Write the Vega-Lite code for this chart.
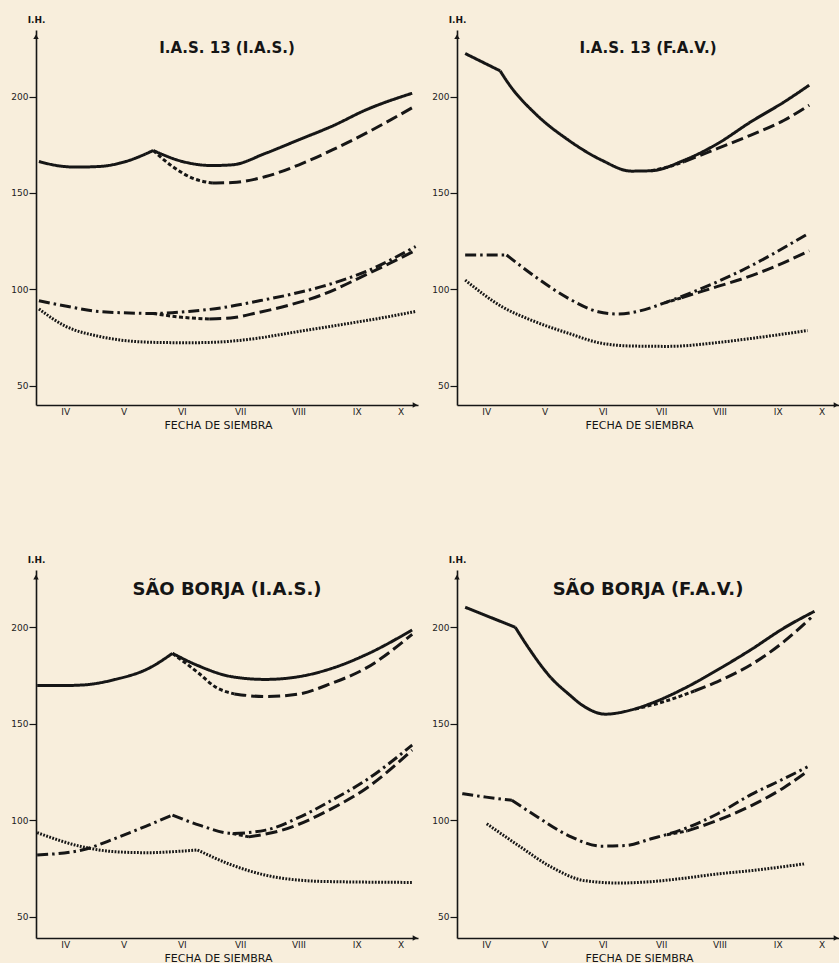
{
  "$schema": "https://vega.github.io/schema/vega-lite/v6.json",
  "background": "#f8eedc",
  "padding": {"left": 10, "top": 15, "right": 0, "bottom": 0},
  "config": {
    "view": {"stroke": null},
    "font": "DejaVu Sans",
    "axis": {"domainColor": "#151515", "domainWidth": 1.6, "tickColor": "#151515", "tickWidth": 1.2, "labelColor": "#222", "grid": false, "labelFont": "DejaVu Sans", "titleFont": "DejaVu Sans", "titleColor": "#151515"},
    "title": {"font": "DejaVu Sans", "fontWeight": "bold", "color": "#151515", "frame": "group", "anchor": "middle", "baseline": "bottom"}
  },
  "datasets": {
    "curves": [
      {"p":"TL","s":"solid","g":1,"x":0.05,"y":166.3},{"p":"TL","s":"solid","g":1,"x":0.4,"y":164.0},{"p":"TL","s":"solid","g":1,"x":0.68,"y":163.4},{"p":"TL","s":"solid","g":1,"x":1.08,"y":163.7},{"p":"TL","s":"solid","g":1,"x":1.54,"y":166.3},{"p":"TL","s":"solid","g":1,"x":2.01,"y":172.0},
      {"p":"TL","s":"solid","g":2,"x":2.01,"y":172.0},{"p":"TL","s":"solid","g":2,"x":2.51,"y":166.3},{"p":"TL","s":"solid","g":2,"x":3.02,"y":164.2},{"p":"TL","s":"solid","g":2,"x":3.37,"y":164.6},{"p":"TL","s":"solid","g":2,"x":3.94,"y":170.6},{"p":"TL","s":"solid","g":2,"x":4.51,"y":177.6},{"p":"TL","s":"solid","g":2,"x":5.09,"y":184.8},{"p":"TL","s":"solid","g":2,"x":5.66,"y":193.1},{"p":"TL","s":"solid","g":2,"x":6.45,"y":201.7},
      {"p":"TL","s":"thinU","g":1,"x":2.01,"y":172.0},{"p":"TL","s":"thinU","g":1,"x":2.34,"y":163.7},{"p":"TL","s":"thinU","g":1,"x":2.68,"y":157.7},{"p":"TL","s":"thinU","g":1,"x":3.02,"y":155.1},
      {"p":"TL","s":"dashU","g":1,"x":3.02,"y":155.1},{"p":"TL","s":"dashU","g":1,"x":3.37,"y":155.4},{"p":"TL","s":"dashU","g":1,"x":3.94,"y":158.5},{"p":"TL","s":"dashU","g":1,"x":4.51,"y":164.6},{"p":"TL","s":"dashU","g":1,"x":5.09,"y":172.4},{"p":"TL","s":"dashU","g":1,"x":5.66,"y":181.0},{"p":"TL","s":"dashU","g":1,"x":6.51,"y":195.2},
      {"p":"TL","s":"dashdot","g":1,"x":0.05,"y":94.1},{"p":"TL","s":"dashdot","g":1,"x":0.6,"y":90.8},{"p":"TL","s":"dashdot","g":1,"x":1.08,"y":88.5},{"p":"TL","s":"dashdot","g":1,"x":2.01,"y":87.5},{"p":"TL","s":"dashdot","g":1,"x":2.62,"y":88.5},{"p":"TL","s":"dashdot","g":1,"x":3.2,"y":90.5},{"p":"TL","s":"dashdot","g":1,"x":3.77,"y":93.7},{"p":"TL","s":"dashdot","g":1,"x":4.34,"y":97.2},{"p":"TL","s":"dashdot","g":1,"x":4.91,"y":101.5},{"p":"TL","s":"dashdot","g":1,"x":5.66,"y":109.3},{"p":"TL","s":"dashdot","g":1,"x":6.51,"y":122.2},
      {"p":"TL","s":"thinL","g":1,"x":2.01,"y":87.5},{"p":"TL","s":"thinL","g":1,"x":2.5,"y":85.5},{"p":"TL","s":"thinL","g":1,"x":2.97,"y":84.6},
      {"p":"TL","s":"dashL","g":1,"x":2.97,"y":84.6},{"p":"TL","s":"dashL","g":1,"x":3.4,"y":85.4},{"p":"TL","s":"dashL","g":1,"x":3.77,"y":87.7},{"p":"TL","s":"dashL","g":1,"x":4.34,"y":91.8},{"p":"TL","s":"dashL","g":1,"x":4.91,"y":97.2},{"p":"TL","s":"dashL","g":1,"x":5.66,"y":107.6},{"p":"TL","s":"dashL","g":1,"x":6.51,"y":120.2},
      {"p":"TL","s":"dot","g":1,"x":0.05,"y":89.8},{"p":"TL","s":"dot","g":1,"x":0.51,"y":80.8},{"p":"TL","s":"dot","g":1,"x":1.08,"y":75.6},{"p":"TL","s":"dot","g":1,"x":2.01,"y":72.5},{"p":"TL","s":"dot","g":1,"x":2.62,"y":72.3},{"p":"TL","s":"dot","g":1,"x":3.02,"y":72.5},{"p":"TL","s":"dot","g":1,"x":3.77,"y":74.5},{"p":"TL","s":"dot","g":1,"x":4.34,"y":77.3},{"p":"TL","s":"dot","g":1,"x":5.09,"y":81.0},{"p":"TL","s":"dot","g":1,"x":5.8,"y":84.5},{"p":"TL","s":"dot","g":1,"x":6.51,"y":88.5},

      {"p":"TR","s":"solid","g":1,"x":0.14,"y":222.3},{"p":"TR","s":"solid","g":1,"x":0.74,"y":213.3},
      {"p":"TR","s":"solid","g":2,"x":0.74,"y":213.3},{"p":"TR","s":"solid","g":2,"x":0.9,"y":206.0},{"p":"TR","s":"solid","g":2,"x":1.34,"y":191.2},{"p":"TR","s":"solid","g":2,"x":1.91,"y":177.4},{"p":"TR","s":"solid","g":2,"x":2.48,"y":167.0},{"p":"TR","s":"solid","g":2,"x":2.99,"y":161.3},{"p":"TR","s":"solid","g":2,"x":3.33,"y":161.5},{"p":"TR","s":"solid","g":2,"x":3.9,"y":167.0},{"p":"TR","s":"solid","g":2,"x":4.47,"y":175.6},{"p":"TR","s":"solid","g":2,"x":5.04,"y":186.9},{"p":"TR","s":"solid","g":2,"x":5.61,"y":197.2},{"p":"TR","s":"solid","g":2,"x":6.04,"y":205.9},
      {"p":"TR","s":"thinU","g":1,"x":3.33,"y":161.5},{"p":"TR","s":"thinU","g":1,"x":3.62,"y":163.5},{"p":"TR","s":"thinU","g":1,"x":3.9,"y":166.3},
      {"p":"TR","s":"dashU","g":1,"x":3.9,"y":166.3},{"p":"TR","s":"dashU","g":1,"x":4.47,"y":173.1},{"p":"TR","s":"dashU","g":1,"x":5.04,"y":180.0},{"p":"TR","s":"dashU","g":1,"x":5.61,"y":187.7},{"p":"TR","s":"dashU","g":1,"x":6.04,"y":195.5},
      {"p":"TR","s":"dashdot","g":1,"x":0.14,"y":117.8},{"p":"TR","s":"dashdot","g":1,"x":0.85,"y":117.8},
      {"p":"TR","s":"dashdot","g":2,"x":0.85,"y":117.8},{"p":"TR","s":"dashdot","g":2,"x":1.34,"y":106.6},{"p":"TR","s":"dashdot","g":2,"x":1.91,"y":95.3},{"p":"TR","s":"dashdot","g":2,"x":2.42,"y":88.4},{"p":"TR","s":"dashdot","g":2,"x":2.76,"y":87.2},{"p":"TR","s":"dashdot","g":2,"x":3.33,"y":90.5},{"p":"TR","s":"dashdot","g":2,"x":3.56,"y":93.0},{"p":"TR","s":"dashdot","g":2,"x":4.13,"y":99.6},{"p":"TR","s":"dashdot","g":2,"x":4.87,"y":109.6},{"p":"TR","s":"dashdot","g":2,"x":6.01,"y":128.7},
      {"p":"TR","s":"thinL","g":1,"x":3.56,"y":93.0},{"p":"TR","s":"thinL","g":1,"x":3.85,"y":95.6},
      {"p":"TR","s":"dashL","g":1,"x":3.85,"y":95.6},{"p":"TR","s":"dashL","g":1,"x":4.47,"y":101.5},{"p":"TR","s":"dashL","g":1,"x":4.87,"y":105.2},{"p":"TR","s":"dashL","g":1,"x":5.5,"y":112.5},{"p":"TR","s":"dashL","g":1,"x":6.04,"y":120.0},
      {"p":"TR","s":"dot","g":1,"x":0.14,"y":104.8},{"p":"TR","s":"dot","g":1,"x":0.77,"y":91.0},{"p":"TR","s":"dot","g":1,"x":1.34,"y":83.2},{"p":"TR","s":"dot","g":1,"x":1.91,"y":77.2},{"p":"TR","s":"dot","g":1,"x":2.48,"y":72.0},{"p":"TR","s":"dot","g":1,"x":2.99,"y":70.6},{"p":"TR","s":"dot","g":1,"x":3.62,"y":70.4},{"p":"TR","s":"dot","g":1,"x":4.47,"y":72.4},{"p":"TR","s":"dot","g":1,"x":5.04,"y":74.5},{"p":"TR","s":"dot","g":1,"x":6.01,"y":78.6},

      {"p":"BL","s":"solid","g":1,"x":0.02,"y":169.8},{"p":"BL","s":"solid","g":1,"x":0.4,"y":169.8},{"p":"BL","s":"solid","g":1,"x":0.79,"y":170.1},{"p":"BL","s":"solid","g":1,"x":1.36,"y":173.0},{"p":"BL","s":"solid","g":1,"x":1.93,"y":178.7},{"p":"BL","s":"solid","g":1,"x":2.34,"y":186.5},
      {"p":"BL","s":"solid","g":2,"x":2.34,"y":186.5},{"p":"BL","s":"solid","g":2,"x":2.79,"y":180.0},{"p":"BL","s":"solid","g":2,"x":3.36,"y":174.4},{"p":"BL","s":"solid","g":2,"x":3.93,"y":173.0},{"p":"BL","s":"solid","g":2,"x":4.5,"y":174.4},{"p":"BL","s":"solid","g":2,"x":5.07,"y":178.7},{"p":"BL","s":"solid","g":2,"x":5.65,"y":185.7},{"p":"BL","s":"solid","g":2,"x":6.45,"y":198.6},
      {"p":"BL","s":"thinU","g":1,"x":2.34,"y":186.5},{"p":"BL","s":"thinU","g":1,"x":2.79,"y":176.2},{"p":"BL","s":"thinU","g":1,"x":3.07,"y":169.2},{"p":"BL","s":"thinU","g":1,"x":3.4,"y":165.5},
      {"p":"BL","s":"dashU","g":1,"x":3.4,"y":165.5},{"p":"BL","s":"dashU","g":1,"x":3.93,"y":164.1},{"p":"BL","s":"dashU","g":1,"x":4.5,"y":165.4},{"p":"BL","s":"dashU","g":1,"x":5.07,"y":171.0},{"p":"BL","s":"dashU","g":1,"x":5.65,"y":178.7},{"p":"BL","s":"dashU","g":1,"x":6.45,"y":196.4},
      {"p":"BL","s":"dashdot","g":1,"x":0.02,"y":82.0},{"p":"BL","s":"dashdot","g":1,"x":0.79,"y":84.6},{"p":"BL","s":"dashdot","g":1,"x":1.36,"y":90.6},{"p":"BL","s":"dashdot","g":1,"x":1.93,"y":97.5},{"p":"BL","s":"dashdot","g":1,"x":2.34,"y":102.7},
      {"p":"BL","s":"dashdot","g":2,"x":2.34,"y":102.7},{"p":"BL","s":"dashdot","g":2,"x":2.8,"y":97.5},{"p":"BL","s":"dashdot","g":2,"x":3.37,"y":93.2},{"p":"BL","s":"dashdot","g":2,"x":3.94,"y":94.9},{"p":"BL","s":"dashdot","g":2,"x":4.51,"y":101.5},{"p":"BL","s":"dashdot","g":2,"x":5.08,"y":110.5},{"p":"BL","s":"dashdot","g":2,"x":5.66,"y":120.8},{"p":"BL","s":"dashdot","g":2,"x":6.45,"y":139.0},
      {"p":"BL","s":"thinL","g":1,"x":3.37,"y":93.2},{"p":"BL","s":"thinL","g":1,"x":3.65,"y":91.4},
      {"p":"BL","s":"dashL","g":1,"x":3.65,"y":91.4},{"p":"BL","s":"dashL","g":1,"x":4.22,"y":94.9},{"p":"BL","s":"dashL","g":1,"x":5.08,"y":106.2},{"p":"BL","s":"dashL","g":1,"x":5.66,"y":116.5},{"p":"BL","s":"dashL","g":1,"x":6.45,"y":136.4},
      {"p":"BL","s":"dot","g":1,"x":0.02,"y":93.6},{"p":"BL","s":"dot","g":1,"x":0.79,"y":86.3},{"p":"BL","s":"dot","g":1,"x":1.36,"y":83.7},{"p":"BL","s":"dot","g":1,"x":1.93,"y":83.2},{"p":"BL","s":"dot","g":1,"x":2.33,"y":83.7},{"p":"BL","s":"dot","g":1,"x":2.77,"y":84.6},
      {"p":"BL","s":"dot","g":2,"x":2.77,"y":84.6},{"p":"BL","s":"dot","g":2,"x":3.36,"y":76.8},{"p":"BL","s":"dot","g":2,"x":3.93,"y":71.6},{"p":"BL","s":"dot","g":2,"x":4.5,"y":69.0},{"p":"BL","s":"dot","g":2,"x":5.07,"y":68.2},{"p":"BL","s":"dot","g":2,"x":6.45,"y":67.8},

      {"p":"BR","s":"solid","g":1,"x":0.14,"y":210.4},{"p":"BR","s":"solid","g":1,"x":1.0,"y":200.0},
      {"p":"BR","s":"solid","g":2,"x":1.0,"y":200.0},{"p":"BR","s":"solid","g":2,"x":1.23,"y":189.2},{"p":"BR","s":"solid","g":2,"x":1.62,"y":173.6},{"p":"BR","s":"solid","g":2,"x":1.91,"y":165.5},{"p":"BR","s":"solid","g":2,"x":2.19,"y":158.8},{"p":"BR","s":"solid","g":2,"x":2.54,"y":155.0},{"p":"BR","s":"solid","g":2,"x":2.99,"y":157.2},{"p":"BR","s":"solid","g":2,"x":3.33,"y":160.6},{"p":"BR","s":"solid","g":2,"x":3.9,"y":168.4},{"p":"BR","s":"solid","g":2,"x":4.47,"y":178.0},{"p":"BR","s":"solid","g":2,"x":5.04,"y":188.4},{"p":"BR","s":"solid","g":2,"x":5.61,"y":199.7},{"p":"BR","s":"solid","g":2,"x":6.13,"y":208.3},
      {"p":"BR","s":"thinU","g":1,"x":3.05,"y":157.6},{"p":"BR","s":"thinU","g":1,"x":3.55,"y":161.5},{"p":"BR","s":"thinU","g":1,"x":4.07,"y":167.0},
      {"p":"BR","s":"dashU","g":1,"x":4.07,"y":167.0},{"p":"BR","s":"dashU","g":1,"x":4.47,"y":171.9},{"p":"BR","s":"dashU","g":1,"x":5.04,"y":180.6},{"p":"BR","s":"dashU","g":1,"x":5.61,"y":192.7},{"p":"BR","s":"dashU","g":1,"x":6.07,"y":205.0},
      {"p":"BR","s":"dashdot","g":1,"x":0.09,"y":113.8},{"p":"BR","s":"dashdot","g":1,"x":0.5,"y":112.0},{"p":"BR","s":"dashdot","g":1,"x":0.94,"y":110.4},
      {"p":"BR","s":"dashdot","g":2,"x":0.94,"y":110.4},{"p":"BR","s":"dashdot","g":2,"x":1.34,"y":102.5},{"p":"BR","s":"dashdot","g":2,"x":1.91,"y":92.1},{"p":"BR","s":"dashdot","g":2,"x":2.48,"y":86.6},{"p":"BR","s":"dashdot","g":2,"x":2.88,"y":86.9},{"p":"BR","s":"dashdot","g":2,"x":3.33,"y":90.4},{"p":"BR","s":"dashdot","g":2,"x":3.9,"y":95.6},{"p":"BR","s":"dashdot","g":2,"x":4.47,"y":103.4},{"p":"BR","s":"dashdot","g":2,"x":5.04,"y":113.3},{"p":"BR","s":"dashdot","g":2,"x":5.61,"y":121.6},{"p":"BR","s":"dashdot","g":2,"x":6.01,"y":127.7},
      {"p":"BR","s":"thinL","g":1,"x":3.6,"y":92.5},{"p":"BR","s":"thinL","g":1,"x":3.95,"y":94.5},
      {"p":"BR","s":"dashL","g":1,"x":3.95,"y":94.5},{"p":"BR","s":"dashL","g":1,"x":4.47,"y":100.0},{"p":"BR","s":"dashL","g":1,"x":5.04,"y":107.5},{"p":"BR","s":"dashL","g":1,"x":5.61,"y":117.0},{"p":"BR","s":"dashL","g":1,"x":6.01,"y":125.4},
      {"p":"BR","s":"dot","g":1,"x":0.51,"y":98.2},{"p":"BR","s":"dot","g":1,"x":1.05,"y":87.0},{"p":"BR","s":"dot","g":1,"x":1.62,"y":75.7},{"p":"BR","s":"dot","g":1,"x":2.19,"y":68.7},{"p":"BR","s":"dot","g":1,"x":2.76,"y":67.5},{"p":"BR","s":"dot","g":1,"x":3.33,"y":68.2},{"p":"BR","s":"dot","g":1,"x":3.9,"y":70.0},{"p":"BR","s":"dot","g":1,"x":4.47,"y":72.2},{"p":"BR","s":"dot","g":1,"x":5.04,"y":73.9},{"p":"BR","s":"dot","g":1,"x":5.95,"y":77.4}
    ],
    "one": [{}]
  },
  "columns": 2,
  "bounds": "flush",
  "spacing": {"row": 165, "column": 39},
  "concat": [
    {
      "width": 382, "height": 375,
      "title": {"text": "I.A.S. 13 (I.A.S.)", "fontSize": 15, "offset": -41},
      "layer": [
        {
          "data": {"name": "curves"},
          "transform": [{"filter": "datum.p == 'TL'"}],
          "mark": {"type": "line", "interpolate": "monotone", "color": "#161616"},
          "encoding": {
            "x": {"field": "x", "type": "quantitative", "scale": {"domain": [0, 6.55], "nice": false},
                  "axis": {"values": [0.5,1,1.5,2,2.5,3,3.5,4,4.5,5,5.5,6,6.25], "labelExpr": "datum.value % 1 == 0 ? '' : ['IV','V','VI','VII','VIII','IX','X'][floor(datum.value)]", "tickSize": -4, "tickOpacity": {"condition": {"test": "datum.value % 1 == 0", "value": 1}, "value": 0}, "labelPadding": 6, "labelFontSize": 9, "title": "FECHA DE SIEMBRA", "titleFontSize": 11, "titleFontWeight": "normal", "titlePadding": 3, "titleX": 182}},
            "y": {"field": "y", "type": "quantitative", "scale": {"domain": [40, 234.5], "nice": false, "zero": false},
                  "axis": {"values": [50,100,150,200], "tickSize": 7, "labelPadding": 1, "labelFontSize": 9, "title": "I.H.", "titleAngle": 0, "titleX": 0, "titleY": -6, "titleAlign": "center", "titleBaseline": "bottom", "titleFontSize": 9, "titleFontWeight": "bold"}},
            "detail": {"field": "g"},
            "strokeDash": {"field": "s", "type": "nominal", "legend": null, "scale": {"domain": ["solid","dashU","dashL","dashdot","dot","thinU","thinL"], "range": [[1,0],[12,5],[12,5],[11,4,2.5,4],[1.8,1.4],[4,2.5],[4,2.5]]}},
            "strokeWidth": {"field": "s", "type": "nominal", "legend": null, "scale": {"domain": ["solid","dashU","dashL","dashdot","dot","thinU","thinL"], "range": [3,3,3,3,2.4,1,1]}}
          }
        },
        {"data": {"name": "one"}, "mark": {"type": "point", "shape": "triangle-up", "filled": true, "size": 30, "color": "#161616", "opacity": 1}, "encoding": {"x": {"datum": 0}, "y": {"datum": 231}}},
        {"data": {"name": "one"}, "mark": {"type": "point", "shape": "triangle-right", "filled": true, "size": 30, "color": "#161616", "opacity": 1}, "encoding": {"x": {"datum": 6.5}, "y": {"datum": 40}}}
      ]
    },
    {
      "width": 382, "height": 375,
      "title": {"text": "I.A.S. 13  (F.A.V.)", "fontSize": 15, "offset": -41},
      "layer": [
        {
          "data": {"name": "curves"},
          "transform": [{"filter": "datum.p == 'TR'"}],
          "mark": {"type": "line", "interpolate": "monotone", "color": "#161616"},
          "encoding": {
            "x": {"field": "x", "type": "quantitative", "scale": {"domain": [0, 6.55], "nice": false},
                  "axis": {"values": [0.5,1,1.5,2,2.5,3,3.5,4,4.5,5,5.5,6,6.25], "labelExpr": "datum.value % 1 == 0 ? '' : ['IV','V','VI','VII','VIII','IX','X'][floor(datum.value)]", "tickSize": -4, "tickOpacity": {"condition": {"test": "datum.value % 1 == 0", "value": 1}, "value": 0}, "labelPadding": 6, "labelFontSize": 9, "title": "FECHA DE SIEMBRA", "titleFontSize": 11, "titleFontWeight": "normal", "titlePadding": 3, "titleX": 182}},
            "y": {"field": "y", "type": "quantitative", "scale": {"domain": [40, 234.5], "nice": false, "zero": false},
                  "axis": {"values": [50,100,150,200], "tickSize": 7, "labelPadding": 1, "labelFontSize": 9, "title": "I.H.", "titleAngle": 0, "titleX": 0, "titleY": -6, "titleAlign": "center", "titleBaseline": "bottom", "titleFontSize": 9, "titleFontWeight": "bold"}},
            "detail": {"field": "g"},
            "strokeDash": {"field": "s", "type": "nominal", "legend": null, "scale": {"domain": ["solid","dashU","dashL","dashdot","dot","thinU","thinL"], "range": [[1,0],[12,5],[12,5],[11,4,2.5,4],[1.8,1.4],[4,2.5],[4,2.5]]}},
            "strokeWidth": {"field": "s", "type": "nominal", "legend": null, "scale": {"domain": ["solid","dashU","dashL","dashdot","dot","thinU","thinL"], "range": [3,3,3,3,2.4,1,1]}}
          }
        },
        {"data": {"name": "one"}, "mark": {"type": "point", "shape": "triangle-up", "filled": true, "size": 30, "color": "#161616", "opacity": 1}, "encoding": {"x": {"datum": 0}, "y": {"datum": 231}}},
        {"data": {"name": "one"}, "mark": {"type": "point", "shape": "triangle-right", "filled": true, "size": 30, "color": "#161616", "opacity": 1}, "encoding": {"x": {"datum": 6.5}, "y": {"datum": 40}}}
      ]
    },
    {
      "width": 382, "height": 368,
      "title": {"text": "SÃO BORJA (I.A.S.)", "fontSize": 18, "offset": -44},
      "layer": [
        {
          "data": {"name": "curves"},
          "transform": [{"filter": "datum.p == 'BL'"}],
          "mark": {"type": "line", "interpolate": "monotone", "color": "#161616"},
          "encoding": {
            "x": {"field": "x", "type": "quantitative", "scale": {"domain": [0, 6.55], "nice": false},
                  "axis": {"values": [0.5,1,1.5,2,2.5,3,3.5,4,4.5,5,5.5,6,6.25], "labelExpr": "datum.value % 1 == 0 ? '' : ['IV','V','VI','VII','VIII','IX','X'][floor(datum.value)]", "tickSize": -4, "tickOpacity": {"condition": {"test": "datum.value % 1 == 0", "value": 1}, "value": 0}, "labelPadding": 6, "labelFontSize": 9, "title": "FECHA DE SIEMBRA", "titleFontSize": 11, "titleFontWeight": "normal", "titlePadding": 3, "titleX": 182}},
            "y": {"field": "y", "type": "quantitative", "scale": {"domain": [39, 229.7], "nice": false, "zero": false},
                  "axis": {"values": [50,100,150,200], "tickSize": 7, "labelPadding": 1, "labelFontSize": 9, "title": "I.H.", "titleAngle": 0, "titleX": 0, "titleY": -6, "titleAlign": "center", "titleBaseline": "bottom", "titleFontSize": 9, "titleFontWeight": "bold"}},
            "detail": {"field": "g"},
            "strokeDash": {"field": "s", "type": "nominal", "legend": null, "scale": {"domain": ["solid","dashU","dashL","dashdot","dot","thinU","thinL"], "range": [[1,0],[12,5],[12,5],[11,4,2.5,4],[1.8,1.4],[4,2.5],[4,2.5]]}},
            "strokeWidth": {"field": "s", "type": "nominal", "legend": null, "scale": {"domain": ["solid","dashU","dashL","dashdot","dot","thinU","thinL"], "range": [3,3,3,3,2.4,1,1]}}
          }
        },
        {"data": {"name": "one"}, "mark": {"type": "point", "shape": "triangle-up", "filled": true, "size": 30, "color": "#161616", "opacity": 1}, "encoding": {"x": {"datum": 0}, "y": {"datum": 226}}},
        {"data": {"name": "one"}, "mark": {"type": "point", "shape": "triangle-right", "filled": true, "size": 30, "color": "#161616", "opacity": 1}, "encoding": {"x": {"datum": 6.5}, "y": {"datum": 39}}}
      ]
    },
    {
      "width": 382, "height": 368,
      "title": {"text": "SÃO BORJA (F.A.V.)", "fontSize": 18, "offset": -44},
      "layer": [
        {
          "data": {"name": "curves"},
          "transform": [{"filter": "datum.p == 'BR'"}],
          "mark": {"type": "line", "interpolate": "monotone", "color": "#161616"},
          "encoding": {
            "x": {"field": "x", "type": "quantitative", "scale": {"domain": [0, 6.55], "nice": false},
                  "axis": {"values": [0.5,1,1.5,2,2.5,3,3.5,4,4.5,5,5.5,6,6.25], "labelExpr": "datum.value % 1 == 0 ? '' : ['IV','V','VI','VII','VIII','IX','X'][floor(datum.value)]", "tickSize": -4, "tickOpacity": {"condition": {"test": "datum.value % 1 == 0", "value": 1}, "value": 0}, "labelPadding": 6, "labelFontSize": 9, "title": "FECHA DE SIEMBRA", "titleFontSize": 11, "titleFontWeight": "normal", "titlePadding": 3, "titleX": 182}},
            "y": {"field": "y", "type": "quantitative", "scale": {"domain": [39, 229.7], "nice": false, "zero": false},
                  "axis": {"values": [50,100,150,200], "tickSize": 7, "labelPadding": 1, "labelFontSize": 9, "title": "I.H.", "titleAngle": 0, "titleX": 0, "titleY": -6, "titleAlign": "center", "titleBaseline": "bottom", "titleFontSize": 9, "titleFontWeight": "bold"}},
            "detail": {"field": "g"},
            "strokeDash": {"field": "s", "type": "nominal", "legend": null, "scale": {"domain": ["solid","dashU","dashL","dashdot","dot","thinU","thinL"], "range": [[1,0],[12,5],[12,5],[11,4,2.5,4],[1.8,1.4],[4,2.5],[4,2.5]]}},
            "strokeWidth": {"field": "s", "type": "nominal", "legend": null, "scale": {"domain": ["solid","dashU","dashL","dashdot","dot","thinU","thinL"], "range": [3,3,3,3,2.4,1,1]}}
          }
        },
        {"data": {"name": "one"}, "mark": {"type": "point", "shape": "triangle-up", "filled": true, "size": 30, "color": "#161616", "opacity": 1}, "encoding": {"x": {"datum": 0}, "y": {"datum": 226}}},
        {"data": {"name": "one"}, "mark": {"type": "point", "shape": "triangle-right", "filled": true, "size": 30, "color": "#161616", "opacity": 1}, "encoding": {"x": {"datum": 6.5}, "y": {"datum": 39}}}
      ]
    }
  ]
}
